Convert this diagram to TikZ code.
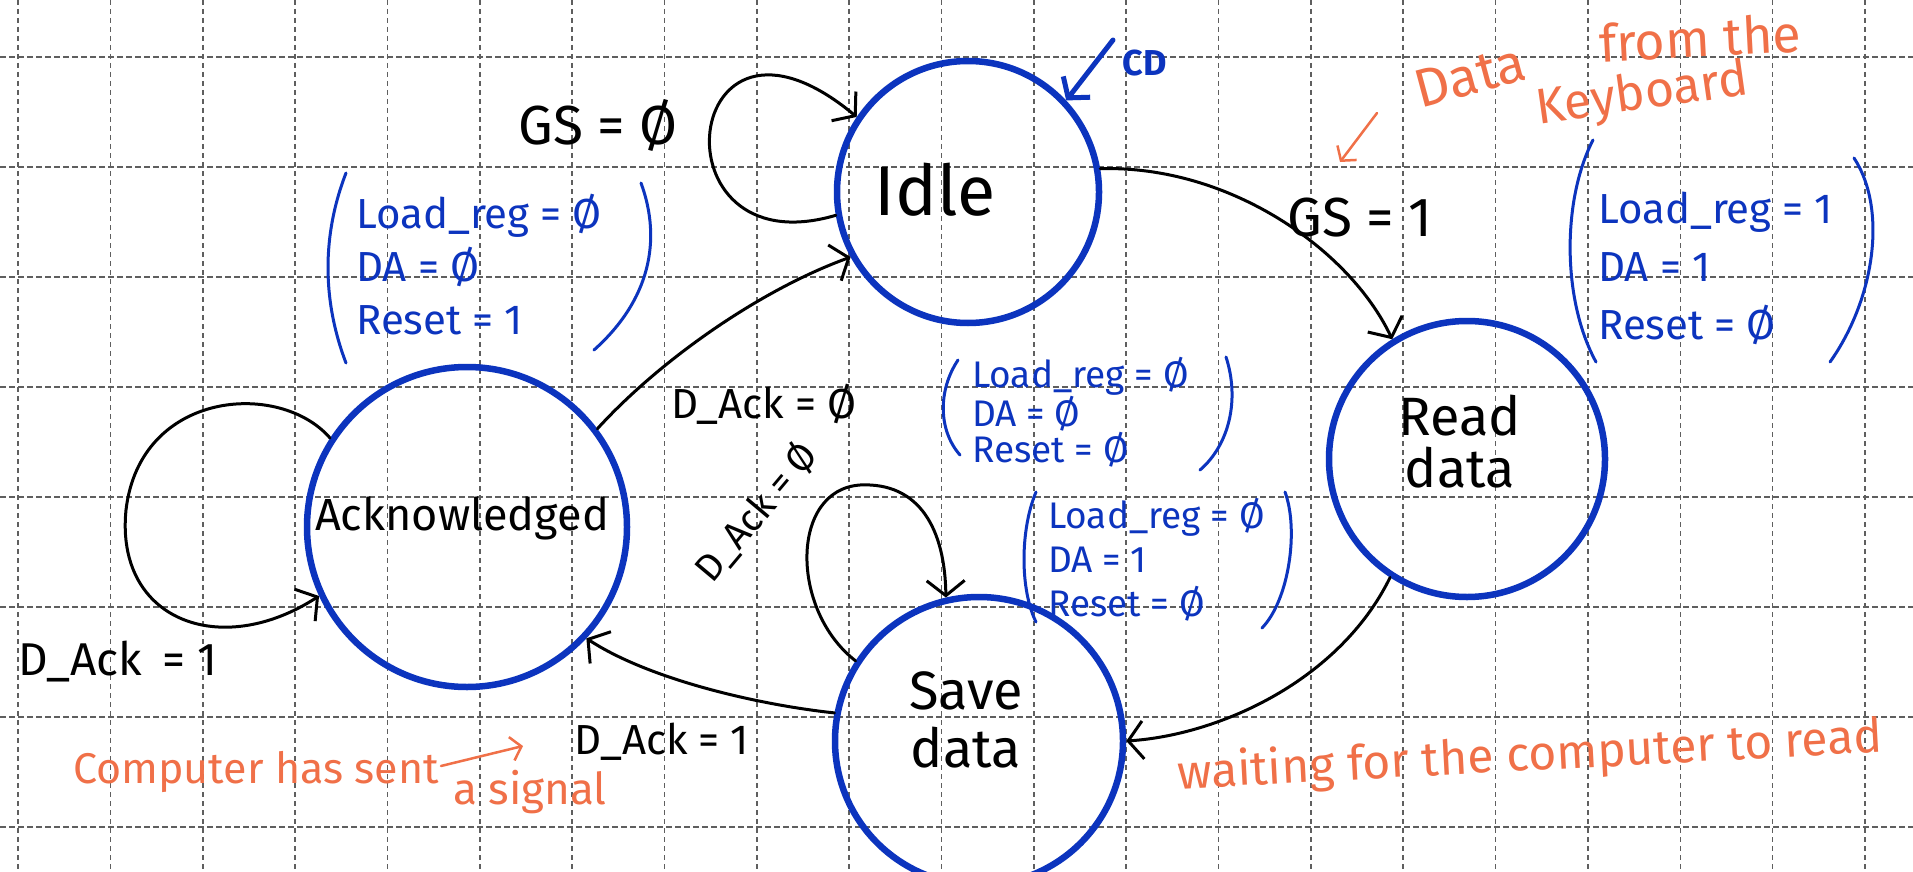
\documentclass[tikz,border=0pt]{standalone}
\usepackage{fontspec}
\setmainfont{Fira Sans}
\usetikzlibrary{arrows.meta}
\definecolor{inkblue}{RGB}{12,52,190}
\definecolor{inkorange}{RGB}{240,112,72}
\definecolor{gridgray}{RGB}{95,95,95}
\newcommand\pxfont[2]{\fontsize{#1}{#2}\selectfont}
\tikzset{
  statecircle/.style={circle, draw=inkblue, line width=6.5pt, minimum size=#1, inner sep=0pt},
  statetext/.style={text=black, align=center, inner sep=0pt},
  lbl/.style={text=black, inner sep=0pt},
  outtext/.style={text=inkblue, align=left, inner sep=0pt, anchor=west},
  bracket/.style={draw=inkblue, line width=3pt, line cap=round},
  arr/.style={draw=black, line width=3pt, line cap=round, -{Straight Barb[length=15pt,width=38pt,line width=3pt]}},
  note/.style={text=inkorange, inner sep=0pt},
  oarr/.style={draw=inkorange, line width=2.5pt, line cap=round, -{Straight Barb[length=10pt,width=24pt,line width=2.5pt]}},
  cdarr/.style={draw=inkblue, line width=5pt, line cap=round, -{Straight Barb[length=14pt,width=34pt,line width=5pt]}},
  gridv/.style={draw=gridgray, line width=1.6pt, dash pattern=on 5pt off 4pt},
  gridh/.style={draw=gridgray, line width=1.6pt, dash pattern=on 6pt off 3pt},
}
\begin{document}
\begin{tikzpicture}[x=1pt,y=-1pt]
\fill[white] (0,0) rectangle (1913,872);
\useasboundingbox (0,0) rectangle (1913,872);
% grid
\foreach \k in {0,...,20} \draw[gridv] ({18+92.35*\k},0) -- ({18+92.35*\k},872);
\foreach \k in {0,...,7} \draw[gridh] (0,{57+110*\k}) -- (1913,{57+110*\k});

% states
\node[statecircle=262pt] (idle) at (968,192) {};
\node[statecircle=320pt] (ack) at (467,527) {};
\node[statecircle=276pt] (read) at (1467,459) {};
\node[statecircle=288pt] (save) at (979,741) {};

\node[statetext, font=\pxfont{70}{76}] (idletxt) at (935,190) {Idle};
\node[statetext, font=\pxfont{45}{50}] (acktxt) at (462,518) {Acknowledged};
\node[statetext, font=\pxfont{54}{52}] (readtxt) at (1460,442) {Read\\data};
\node[statetext, font=\pxfont{54}{58}] (savetxt) at (966,720) {Save\\data};

% transitions
\draw[arr] (idle.190) .. controls (650,270) and (680,-30) .. (idle.146);
\draw[arr] (ack.37) .. controls (660,360) and (760,290) .. (idle.209);
\draw[arr] (idle.10) .. controls (1230,165) and (1350,250) .. (read.122);
\draw[arr] (read.237) .. controls (1340,680) and (1220,735) .. (save.0);
\draw[arr] (save.169) .. controls (760,705) and (650,680) .. (ack.317);
\draw[arr] (ack.147) .. controls (280,380) and (140,390) .. (126,510) .. controls (115,620) and (220,660) .. (ack.205);
\draw[arr] (save.147) .. controls (790,610) and (790,490) .. (860,485) .. controls (920,482) and (945,530) .. (save.103);

% CD reset arrow
\coordinate (cdstart) at (1113,40);
\draw[cdarr] (cdstart) -- (idle.43);
\node[text=inkblue, inner sep=0pt, font=\pxfont{36}{40}\bfseries] (cd) at (1145,63) {CD};

% transition labels
\node[lbl, font=\pxfont{55}{58}] (gs0) at (598,125) {GS = Ø};
\node[lbl, font=\pxfont{55}{58}] (gs1) at (1360,218) {GS = 1};
\node[lbl, font=\pxfont{42}{46}] (dack0) at (764,404) {D\_Ack = Ø};
\node[lbl, font=\pxfont{38}{40}, rotate=50] (dack0b) at (756,512) {D\_Ack = Ø};
\node[lbl, font=\pxfont{46}{50}] (dack1a) at (118,662) {D\_Ack \,= 1};
\node[lbl, font=\pxfont{42}{46}] (dack1b) at (662,742) {D\_Ack = 1};

% outputs
\node[outtext, font=\pxfont{42}{53}] (outidle) at (356,265) {Load\_reg = Ø\\DA = Ø\\Reset = 1};
\node[outtext, font=\pxfont{42}{58}] (outread) at (1598,268) {Load\_reg = 1\\DA = 1\\Reset = Ø};
\node[outtext, font=\pxfont{37}{34}] (outmid) at (972,412) {Load\_reg = Ø\\DA = Ø\\Reset = Ø};
\node[outtext, font=\pxfont{37}{44}] (outsave) at (1048,560) {Load\_reg = Ø\\DA = 1\\Reset = Ø};

\draw[bracket] (346,173) .. controls (322,235) and (322,300) .. (346,363);
\draw[bracket] (641,183) .. controls (662,240) and (650,300) .. (594,350);
\draw[bracket] (958,360) .. controls (938,390) and (938,430) .. (960,455);
\draw[bracket] (1226,357) .. controls (1240,400) and (1229,445) .. (1200,470);
\draw[bracket] (1036,492) .. controls (1020,530) and (1020,590) .. (1036,622);
\draw[bracket] (1285,492) .. controls (1299,530) and (1289,600) .. (1262,628);
\draw[bracket] (1593,140) .. controls (1562,200) and (1562,300) .. (1596,362);
\draw[bracket] (1854,158) .. controls (1888,210) and (1874,300) .. (1830,362);

% orange notes
\node[note, font=\pxfont{54}{56}, rotate=15] (ndata) at (1470,76) {Data};
\node[note, font=\pxfont{52}{54}, rotate=3] (nfrom) at (1700,38) {from the};
\node[note, font=\pxfont{50}{52}, rotate=8] (nkey) at (1642,96) {Keyboard};
\coordinate (okbA) at (1377,113);
\coordinate (okbB) at (1340,162);
\draw[oarr] (okbA) -- (okbB);

\node[note, font=\pxfont{43}{46}] (ncomp) at (256,772) {Computer has sent};
\node[note, font=\pxfont{44}{48}] (nsig) at (530,792) {a signal};
\coordinate (osA) at (441,766);
\coordinate (osB) at (523,746);
\draw[oarr] (osA) -- (osB);

\node[note, font=\pxfont{48}{52}, rotate=3] (nwait) at (1530,757) {waiting for the computer to read};
\end{tikzpicture}
\end{document}
